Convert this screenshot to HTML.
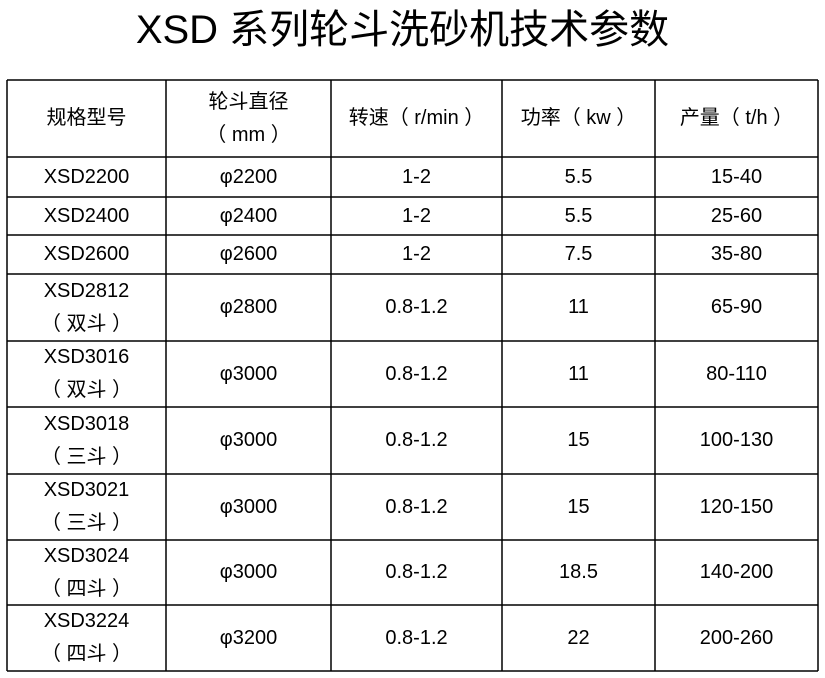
<!DOCTYPE html>
<html><head><meta charset="utf-8"><style>
body{margin:0;width:825px;height:678px;background:#fff;position:relative;overflow:hidden;font-family:"Liberation Sans","Noto Sans CJK SC",sans-serif;color:#000}
h1{position:absolute;left:0;top:5px;width:805px;margin:0;text-align:center;font-weight:normal;font-size:40px;line-height:50px;}
.c{position:absolute;display:flex;align-items:center;justify-content:center;text-align:center;font-size:20px;line-height:33px}
svg{position:absolute;left:0;top:0}
</style></head><body>
<h1>XSD 系列轮斗洗砂机技术参数</h1>
<svg width="825" height="678">
<g stroke="#000" stroke-width="1.5">
<line x1="7" y1="80" x2="818" y2="80"/><line x1="7" y1="157" x2="818" y2="157"/><line x1="7" y1="197" x2="818" y2="197"/><line x1="7" y1="235" x2="818" y2="235"/><line x1="7" y1="274" x2="818" y2="274"/><line x1="7" y1="341" x2="818" y2="341"/><line x1="7" y1="407" x2="818" y2="407"/><line x1="7" y1="474" x2="818" y2="474"/><line x1="7" y1="540" x2="818" y2="540"/><line x1="7" y1="605" x2="818" y2="605"/><line x1="7" y1="671" x2="818" y2="671"/>
<line x1="7" y1="80" x2="7" y2="671"/><line x1="166" y1="80" x2="166" y2="671"/><line x1="331" y1="80" x2="331" y2="671"/><line x1="502" y1="80" x2="502" y2="671"/><line x1="655" y1="80" x2="655" y2="671"/><line x1="818" y1="80" x2="818" y2="671"/>
</g></svg>
<div id="t"></div>
<script>
var cols=[7,166,331,502,655,818],rows=[80,157,197,235,274,341,407,474,540,605,671];
var d=[["规格型号","轮斗直径<br>（ mm ）","转速（ r/min ）","功率（ kw ）","产量（ t/h ）"],
["XSD2200","φ2200","1-2","5.5","15-40"],["XSD2400","φ2400","1-2","5.5","25-60"],["XSD2600","φ2600","1-2","7.5","35-80"],
["XSD2812<br>（ 双斗 ）","φ2800","0.8-1.2","11","65-90"],["XSD3016<br>（ 双斗 ）","φ3000","0.8-1.2","11","80-110"],
["XSD3018<br>（ 三斗 ）","φ3000","0.8-1.2","15","100-130"],["XSD3021<br>（ 三斗 ）","φ3000","0.8-1.2","15","120-150"],
["XSD3024<br>（ 四斗 ）","φ3000","0.8-1.2","18.5","140-200"],["XSD3224<br>（ 四斗 ）","φ3200","0.8-1.2","22","200-260"]];
var h="";for(var r=0;r<10;r++)for(var c=0;c<5;c++)h+='<div class="c" style="left:'+cols[c]+'px;top:'+rows[r]+'px;width:'+(cols[c+1]-cols[c])+'px;height:'+(rows[r+1]-rows[r])+'px">'+d[r][c]+'</div>';
document.getElementById("t").innerHTML=h;
</script>
</body></html>
